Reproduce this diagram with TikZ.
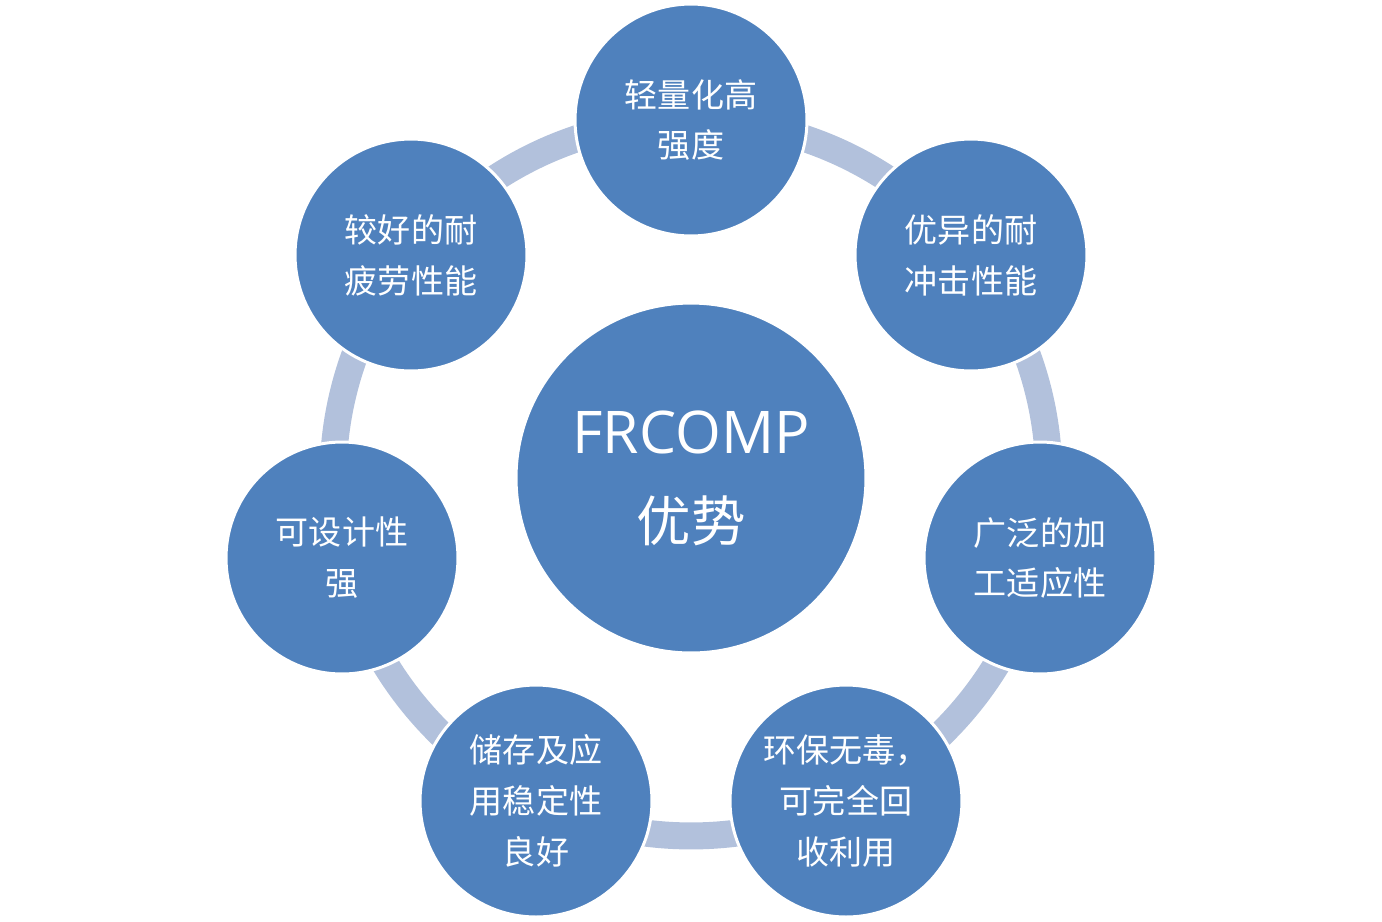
\documentclass[tikz,border=0pt]{standalone}
\usepackage{fontspec}
\newfontfamily\cjk{Noto Sans CJK SC}
\newfontfamily\latin{Open Sans}
\definecolor{petalblue}{HTML}{4F81BD}
\definecolor{ringblue}{HTML}{B2C1DC}
\begin{document}
\begin{tikzpicture}[x=0.02cm,y=-0.02cm,
  petal/.style={circle,fill=petalblue,draw=white,line width=1.7pt,minimum size=4.64cm,inner sep=0pt,
    text=white,align=center,font=\cjk\fontsize{18.8}{29}\selectfont},
  hub/.style={petal,minimum size=7cm,font=\cjk\fontsize{31}{50}\selectfont}]
\useasboundingbox (0,0) rectangle (1382,921);
\draw[ringblue,line width=0.54cm] (691,478) circle (7.16cm);

\node[hub] (adv) at (691,478) {{\latin\fontsize{33.5}{50}\selectfont FRCOMP}\\优势};

\node[petal] (light) at (691,120) {轻量化高\\强度};
\node[petal] (impact) at (971,255) {优异的耐\\冲击性能};
\node[petal] (process) at (1040,558) {广泛的加\\工适应性};
\node[petal] (green) at (846,801) {环保无毒，\\可完全回\\收利用};
\node[petal] (storage) at (536,801) {储存及应\\用稳定性\\良好};
\node[petal] (design) at (342,558) {可设计性\\强};
\node[petal] (fatigue) at (411,255) {较好的耐\\疲劳性能};
\end{tikzpicture}
\end{document}
